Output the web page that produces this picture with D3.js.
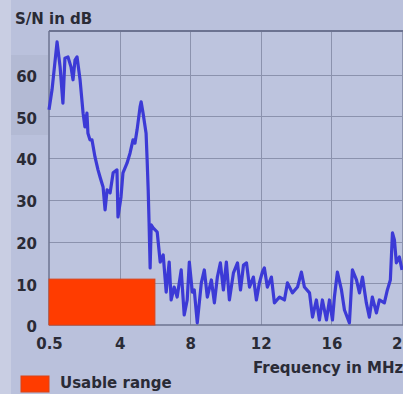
<!DOCTYPE html>
<html>
<head>
<meta charset="utf-8">
<script src="https://cdn.jsdelivr.net/npm/d3@7/dist/d3.min.js"></script>
<style>
  html, body { margin: 0; padding: 0; background: #bac1dc; }
  svg { display: block; }
  text { font-family: "DejaVu Sans", sans-serif; font-weight: bold; fill: #2a2b36; }
</style>
</head>
<body>
<svg id="chart" width="403" height="394"></svg>
<script>
// Measured signal-to-noise ratio across the line's frequency band
const freqMHz = [
  0.50, 0.65, 0.90, 1.05, 1.19, 1.29, 1.44, 1.59, 1.69, 1.79, 1.89, 2.04, 2.19, 2.28, 2.38, 2.43,
  2.53, 2.63, 2.78, 2.93, 3.03, 3.18, 3.28, 3.38, 3.53, 3.68, 3.87, 3.92, 4.08, 4.19, 4.42, 4.59,
  4.76, 4.87, 4.99, 5.16, 5.22, 5.33, 5.50, 5.56, 5.62, 5.67, 5.73, 5.79, 5.90, 6.13, 6.30, 6.47,
  6.64, 6.81, 6.92, 7.09, 7.26, 7.49, 7.66, 7.83, 7.95, 8.12, 8.23, 8.40, 8.63, 8.80, 8.97, 9.20,
  9.37, 9.54, 9.71, 9.88, 10.05, 10.22, 10.45, 10.68, 10.85, 11.02, 11.19, 11.36, 11.58, 11.75,
  11.92, 12.09, 12.20, 12.37, 12.60, 12.77, 13.06, 13.34, 13.51, 13.79, 14.08, 14.30, 14.47, 14.76,
  14.93, 15.15, 15.32, 15.49, 15.72, 15.89, 16.06, 16.17, 16.34, 16.57, 16.74, 17.02, 17.19, 17.42,
  17.59, 17.76, 17.98, 18.15, 18.32, 18.55, 18.72, 19.00, 19.17, 19.34, 19.46, 19.57, 19.68, 19.85,
  20.00
];
const snrDb = [
  51.6, 56.4, 67.9, 61.9, 53.2, 64.0, 64.3, 61.9, 58.8, 63.5, 64.3, 58.8, 50.8, 47.5, 50.8, 46.0,
  44.4, 44.4, 40.3, 37.2, 35.5, 33.1, 27.6, 32.4, 31.7, 36.5, 37.2, 25.9, 30.7, 36.5, 38.8, 41.2,
  44.4, 43.6, 46.8, 52.3, 53.5, 50.8, 46.0, 39.6, 32.4, 24.5, 13.7, 24.0, 23.3, 22.3, 15.1, 16.8,
  7.9, 15.1, 6.0, 9.1, 6.7, 13.2, 2.4, 6.0, 15.1, 7.9, 8.4, 0.5, 10.1, 13.2, 6.7, 10.8,
  5.3, 11.5, 14.9, 8.4, 15.1, 6.0, 12.5, 14.9, 8.4, 14.4, 14.9, 9.1, 11.5, 6.0,
  10.1, 12.7, 13.7, 9.1, 11.5, 5.3, 6.7, 6.0, 10.1, 7.7, 9.1, 12.7, 9.1, 7.7,
  1.9, 6.0, 1.2, 6.0, 1.2, 6.0, 1.2, 6.7, 12.7, 8.4, 3.6, 0.5, 13.2, 10.8,
  7.7, 11.5, 5.3, 1.9, 6.7, 2.9, 6.0, 5.3, 8.4, 10.8, 22.1, 20.4, 14.9, 16.3,
  13.2
];

// Usable range: band where the S/N stays high enough
const usableFrom = 0.5;
const usableTo = 6.0;
const usableDb = 11;

// Axis ticks
const xTicks = [0.5, 4, 8, 12, 16, 20];
const xTickLabels = ["0.5", "4", "8", "12", "16", "20"];
const yTicks = [0, 10, 20, 30, 40, 50, 60];

const svg = d3.select("#chart");
const plotLeft = 49, plotRight = 402, plotTop = 31, plotBottom = 325;

// The first division of the frequency axis spans 0.5–4 MHz, the rest 4 MHz each
const x = d3.scaleLinear()
  .domain([0.5, 4, 20])
  .range([plotLeft, plotLeft + (plotRight - plotLeft) / 5, plotRight]);
const y = d3.scaleLinear().domain([0, 70.5]).range([plotBottom, plotTop]);

// Page shading
svg.append("rect").attr("x", 0).attr("y", 0).attr("width", 403).attr("height", 394).attr("fill", "#bac1dc");
svg.append("rect").attr("x", 0).attr("y", 0).attr("width", 11).attr("height", 394).attr("fill", "#c9cee3");
svg.append("rect").attr("x", 11).attr("y", 55).attr("width", 37).attr("height", 80).attr("fill", "#b3bad4");

// Plot background
svg.append("rect")
  .attr("x", plotLeft).attr("y", plotTop)
  .attr("width", plotRight - plotLeft + 4).attr("height", plotBottom - plotTop)
  .attr("fill", "#bdc4de");

// Grid
const grid = svg.append("g").attr("stroke", "#8b92ad").attr("stroke-width", 1);
grid.selectAll("line.h").data(yTicks.filter(d => d > 0)).join("line")
  .attr("class", "h")
  .attr("x1", plotLeft).attr("x2", 403)
  .attr("y1", d => Math.round(y(d)) + 0.5).attr("y2", d => Math.round(y(d)) + 0.5);
grid.selectAll("line.v").data(xTicks.slice(1)).join("line")
  .attr("class", "v")
  .attr("y1", plotTop).attr("y2", plotBottom)
  .attr("x1", d => Math.round(x(d)) + 0.5).attr("x2", d => Math.round(x(d)) + 0.5);

// Frame
svg.append("line").attr("x1", plotLeft).attr("x2", 403).attr("y1", plotTop).attr("y2", plotTop)
  .attr("stroke", "#6c7391").attr("stroke-width", 2);
svg.append("line").attr("x1", plotLeft).attr("x2", plotLeft).attr("y1", plotTop).attr("y2", plotBottom)
  .attr("stroke", "#6c7391").attr("stroke-width", 1.5);
svg.append("line").attr("x1", plotLeft).attr("x2", 403).attr("y1", plotBottom).attr("y2", plotBottom)
  .attr("stroke", "#6c7391").attr("stroke-width", 1.5);

// Usable range bar
svg.append("rect")
  .attr("x", x(usableFrom)).attr("y", y(usableDb))
  .attr("width", x(usableTo) - x(usableFrom)).attr("height", y(0) - y(usableDb))
  .attr("fill", "#ff3c00").attr("stroke", "#d8441a").attr("stroke-width", 1);

// S/N trace
const points = freqMHz.map((f, i) => [f, snrDb[i]]);
svg.append("path")
  .datum(points)
  .attr("fill", "none")
  .attr("stroke", "#3c3ad6")
  .attr("stroke-width", 3.2)
  .attr("stroke-linejoin", "round")
  .attr("d", d3.line().x(d => x(d[0])).y(d => y(d[1])));

// Axes
const xAxis = svg.append("g")
  .attr("transform", `translate(0,${plotBottom})`)
  .call(d3.axisBottom(x).tickValues(xTicks).tickSize(0).tickPadding(13)
    .tickFormat((d, i) => xTickLabels[i]));
xAxis.select(".domain").remove();
xAxis.selectAll("text").attr("font-size", 15).attr("font-family", "DejaVu Sans").attr("fill", "#2a2b36");

const yAxis = svg.append("g")
  .attr("transform", `translate(37,0)`)
  .call(d3.axisLeft(y).tickValues(yTicks).tickSize(0).tickPadding(0));
yAxis.select(".domain").remove();
yAxis.selectAll("text").attr("font-size", 15).attr("font-family", "DejaVu Sans").attr("fill", "#2a2b36")
  .attr("dy", "0.45em");

// Titles
svg.append("text").attr("x", 15).attr("y", 24).attr("font-size", 15).text("S/N in dB");
svg.append("text").attr("x", 253).attr("y", 373).attr("font-size", 15).text("Frequency in MHz");

// Legend
svg.append("rect").attr("x", 21).attr("y", 376).attr("width", 28).attr("height", 16)
  .attr("fill", "#ff3c00").attr("stroke", "#d8441a");
svg.append("text").attr("x", 60).attr("y", 388).attr("font-size", 15).text("Usable range");
</script>
</body>
</html>
